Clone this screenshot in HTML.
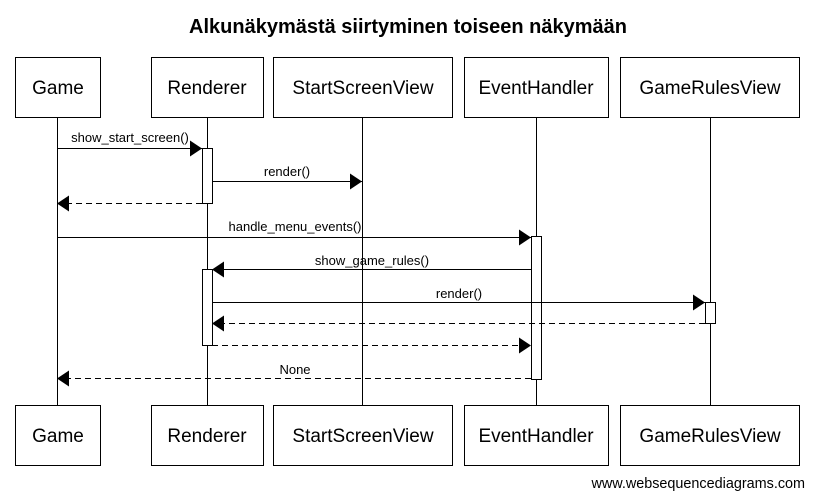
<!DOCTYPE html>
<html><head><meta charset="utf-8"><style>body{margin:0;background:#fff}svg{display:block}</style></head><body>
<svg width="813" height="497" viewBox="0 0 813 497" xmlns="http://www.w3.org/2000/svg" font-family="Liberation Sans, Arial, sans-serif">
<defs>
<marker id="a" markerWidth="12" markerHeight="16" refX="12" refY="8" orient="auto" markerUnits="userSpaceOnUse"><path d="M0,0 L12,8 L0,16 z" fill="#000"/></marker>
</defs>
<text x="408" y="33" text-anchor="middle" font-size="20" font-weight="bold">Alkunäkymästä siirtyminen toiseen näkymään</text>
<g stroke="#000" stroke-width="1">
<line x1="57.5" y1="117" x2="57.5" y2="405"/>
<line x1="207.5" y1="117" x2="207.5" y2="405"/>
<line x1="362.5" y1="117" x2="362.5" y2="405"/>
<line x1="536.5" y1="117" x2="536.5" y2="405"/>
<line x1="710.5" y1="117" x2="710.5" y2="405"/>
</g>
<g fill="#fff" stroke="#000">
<rect x="15.5" y="57.5" width="85" height="60"/><rect x="151.5" y="57.5" width="112" height="60"/><rect x="273.5" y="57.5" width="179" height="60"/><rect x="464.5" y="57.5" width="144" height="60"/><rect x="620.5" y="57.5" width="179" height="60"/>
<rect x="15.5" y="405.5" width="85" height="60"/><rect x="151.5" y="405.5" width="112" height="60"/><rect x="273.5" y="405.5" width="179" height="60"/><rect x="464.5" y="405.5" width="144" height="60"/><rect x="620.5" y="405.5" width="179" height="60"/>
<rect x="202.5" y="148.5" width="10" height="55"/>
<rect x="202.5" y="269.5" width="10" height="76"/>
<rect x="531.5" y="236.5" width="10" height="143"/>
<rect x="705.5" y="302.5" width="10" height="21"/>
</g>
<g font-size="19" text-anchor="middle">
<text x="58" y="94">Game</text><text x="207" y="94">Renderer</text><text x="363" y="94">StartScreenView</text><text x="536" y="94">EventHandler</text><text x="710" y="94">GameRulesView</text>
<text x="58" y="442">Game</text><text x="207" y="442">Renderer</text><text x="363" y="442">StartScreenView</text><text x="536" y="442">EventHandler</text><text x="710" y="442">GameRulesView</text>
</g>
<g stroke="#000" fill="none">
<line x1="57" y1="148.5" x2="202" y2="148.5" marker-end="url(#a)"/>
<line x1="212" y1="181.5" x2="362" y2="181.5" marker-end="url(#a)"/>
<line x1="202" y1="203.5" x2="57" y2="203.5" stroke-dasharray="6,4" marker-end="url(#a)"/>
<line x1="57" y1="237.5" x2="531" y2="237.5" marker-end="url(#a)"/>
<line x1="531" y1="269.5" x2="212" y2="269.5" marker-end="url(#a)"/>
<line x1="212" y1="302.5" x2="705" y2="302.5" marker-end="url(#a)"/>
<line x1="705" y1="323.5" x2="212" y2="323.5" stroke-dasharray="6,4" marker-end="url(#a)"/>
<line x1="212" y1="345.5" x2="531" y2="345.5" stroke-dasharray="6,4" marker-end="url(#a)"/>
<line x1="531" y1="378.5" x2="57" y2="378.5" stroke-dasharray="6,4" marker-end="url(#a)"/>
</g>
<g font-size="13" text-anchor="middle">
<text x="130" y="142">show_start_screen()</text>
<text x="287" y="176">render()</text>
<text x="295" y="231">handle_menu_events()</text>
<text x="372" y="265">show_game_rules()</text>
<text x="459" y="298">render()</text>
<text x="295" y="374">None</text>
</g>
<text x="805" y="488" text-anchor="end" font-size="14.4">www.websequencediagrams.com</text>
</svg>
</body></html>
